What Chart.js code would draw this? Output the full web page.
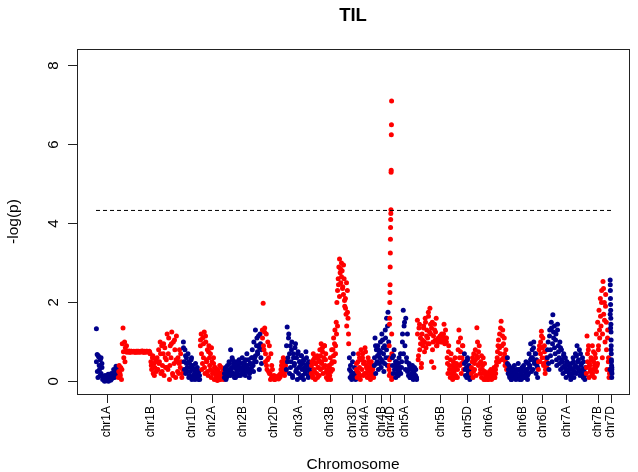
<!DOCTYPE html>
<html>
<head>
<meta charset="utf-8">
<title>TIL</title>
<script src="https://cdn.jsdelivr.net/npm/chart.js@4.4.1/dist/chart.umd.min.js"></script>
<style>
  html, body { margin: 0; padding: 0; background: #fff; }
  #wrap { width: 638px; height: 472px; }
</style>
</head>
<body>
<div id="wrap"><canvas id="manhattan" width="638" height="472"></canvas></div>
<script>
// ================================================
// DATA  (-log(p) per marker, in map order per chromosome)
// ================================================
const chrNames = ['chr1A','chr1B','chr1D','chr2A','chr2B','chr2D','chr3A','chr3B','chr3D','chr4A','chr4B',
                  'chr4D','chr5A','chr5B','chr5D','chr6A','chr6B','chr6D','chr7A','chr7B','chr7D'];
const chrLengths = [22, 65, 17, 24, 38, 24, 25, 38, 7, 18, 15, 3, 25, 47, 7, 36, 31, 9, 39, 24, 2];

// first marker panel
const v1A = [1.33,0.68,0.1,0.62,0.3,0.55,0.2,
             0.45,0.05,0.12,0.02,0.15,0.05,0.1,0.02,0.18,0.06,0.12,0.03,0.2,0.08,
             0.15,0.3,0.1,0.25,0.38,0.2,0.32];
const v1B = [0.1,0.4,0.2,0.35,0.05,
             0.95,1.35,0.6,1.0,0.85,
             0.76,0.74,0.76,0.75,0.77,0.75,0.74,0.76,0.75,0.75,0.76,0.74,0.75,0.76,0.75,0.74,
             0.76,0.75,0.74,0.76,0.75,0.77,0.75,0.74,0.76,0.75,0.74,0.76,0.75,0.75,0.76,
             0.7,0.5,0.3,0.6,0.2,0.45,0.35,0.55,0.25,
             0.6,0.3,0.8,0.5,1.0,0.2,0.9,0.4,0.7,0.15,0.85,0.35,0.55,
             1.2,0.3,1.1,0.05,0.9,0.6,1.25,0.2,1.0,0.45,0.8,0.1,1.15,0.5,
             0.6,0.2,0.8,0.35,0.5,0.1,0.3];
const v1D = [1.0,0.5,0.8,0.2,0.6,0.35,0.7,0.1,0.45,0.25,0.55,0.05,0.4,0.15,0.3,0.05,0.2,0.1,0.35,0.15,0.25,0.05];
const v2A = [0.9,1.2,0.3,1.1,0.6,1.25,0.2,1.0,0.5,0.8,0.15,0.9,0.4,0.7,0.1,0.5,
             0.25,0.45,0.05,0.35,0.15,0.3,0.02,0.25,0.1,0.4,0.05,0.2,0.1,0.3,0.05];
const v2B = [0.1,0.3,0.05,0.2,0.4,0.15,0.5,0.25,0.8,0.3,0.6,0.2,0.45,0.1,0.35,0.5,0.2,0.4,0.15,0.55,
             0.3,0.45,0.2,0.6,0.35,0.25,0.5,0.15,0.4,0.7,0.3,0.55,0.1,0.45,0.25,0.6,0.8,0.4,1.0,0.6,
             1.3,0.5,1.1,0.7,0.9,0.3,1.2,0.6,0.8];
const v2D = [1.3,1.98,0.8,1.35,0.5,1.2,0.3,1.0,0.6,0.9,0.2,0.7,0.4,0.3,0.1,0.15,0.05,0.1,0.12,0.08,
             0.1,0.15,0.1,0.12,0.3,0.5,0.2,0.6,0.35,0.55,0.25];
const v3A = [0.3,1.38,0.6,1.2,0.2,0.9,0.5,1.0,0.1,0.7,0.4,0.85,0.25,0.6,0.05,0.75,
             0.35,0.5,0.1,0.65,0.3,0.45,0.05,0.55,0.2,0.75,0.4,0.3,0.1,0.5,0.2,0.35];
const v3B = [0.2,0.5,0.1,0.7,0.3,0.6,0.05,0.45,0.2,0.65,0.35,0.55,0.15,
             0.8,0.3,0.95,0.5,0.85,0.2,0.6,0.9,0.4,0.7,
             0.1,0.3,0.05,0.2,0.4,0.15,0.6,0.25,0.8,0.5,
             0.8,1.1,0.5,1.3,0.9,1.5,
             2.0,2.3,2.6,2.9,3.1,2.75,2.5,3.0,2.8,2.4,2.2,2.6,1.9,2.1,1.7,1.4,2.3,1.6,
             0.95];
const v3D = [0.6,0.1,0.25,0.05,0.15,0.7,0.1,0.2,0.05];
const v4A = [0.3,0.1,0.5,0.2,0.6,0.05,0.8,0.3,0.7,0.15,0.5,0.85,0.2,0.4,0.1,0.6,0.25,0.35,0.05,0.5,0.2,0.3,0.1];
const v4B = [0.4,1.1,0.2,0.8,0.5,0.9,0.3,0.7,0.6,1.0,0.35,1.2,0.5,0.85,0.25,0.9,1.3,0.6,1.6,0.4,1.75,1.0];
const v4D = [0.3,0.9,0.15,1.45,0.55,1.6,2.0,2.25,2.45,2.9,3.25,3.6,3.9,4.1,4.25,4.35,
             5.3,5.35,6.25,6.5,7.1,1.2,0.7,0.1];
const v5A = [0.6,0.2,0.8,0.4,0.1,0.5,0.3,0.15,0.6,0.35,0.2,0.5,1.0,1.8,1.4,0.9,1.6,0.5,1.2,0.3,
             0.45,0.1,0.35,0.2,0.4,0.05,0.25,0.15,0.3,0.05];
const v5B = [1.55,0.55,1.35,0.8,1.1,0.35,
             1.2,0.9,1.4,1.0,1.6,0.85,1.3,1.1,1.75,0.95,1.85,1.2,0.5,1.5,1.0,0.35,1.3,1.05,1.6,
             0.9,1.05,1.1,1.0,1.15,1.05,1.2,1.0,1.1,1.45,0.95,1.1,1.0,
             0.6,0.2,0.9,0.4,0.1,0.7,0.3,0.05,0.5,0.25,0.6,0.15,0.4,0.1,
             0.8,1.3,0.4,1.1,0.2,0.6,0.9,0.3];
const v5D = [0.7,0.3,0.5,0.1,0.6,0.2,0.4,0.05,0.3];
const v6A = [0.2,0.5,0.1,0.7,0.3,0.8,0.15,1.36,0.6,0.4,0.9,0.2,0.5,0.1,0.3,0.6,0.05,0.25,
             0.05,0.2,0.1,0.15,0.05,0.25,0.1,0.3,0.2,0.08,0.15,0.35,0.1,0.2,0.4,
             0.6,0.9,0.5,1.2,0.7,1.52,0.9,1.3,0.6,1.1,0.4,0.8,0.3];
const v6B = [0.6,0.2,0.4,0.1,0.3,0.05,0.25,0.35,0.1,0.4,0.2,0.05,0.3,0.15,0.45,0.1,0.3,0.2,0.05,0.35,
             0.15,0.4,0.1,0.25,0.5,0.3,0.15,0.45,0.7,0.4,0.95,0.6,0.8,0.3,1.0,0.5,0.7,0.2,0.4,0.1];
const v6D = [0.3,0.8,0.5,1.0,1.27,0.6,1.1,0.4,0.9,0.2,0.6,0.35];
const v7A = [0.6,1.0,0.3,1.3,0.8,1.5,0.5,1.69,1.1,1.4,0.7,1.2,0.4,1.45,0.9,0.6,1.0,0.3,0.8,0.5,
             0.2,0.7,0.35,0.6,0.1,0.5,0.25,0.4,0.15,0.3,0.05,0.45,0.2,0.6,0.1,0.35,0.7,0.2,0.9,0.5,
             0.3,0.8,0.15,0.4,0.2,0.6,0.1,0.3,0.05,0.2];
const v7B = [0.2,1.15,0.5,0.8,0.1,0.4,0.25,0.6,0.15,0.9,0.3,0.5,0.1,0.7,0.35,1.2,0.4,1.5,0.8,1.8,
             1.1,2.1,1.4,2.3,0.6,2.53,1.7,2.0,1.0,2.2,1.5,0.3,1.3,0.5,0.1,0.3];
const v7D = [0.3,2.57,2.45,2.3,2.1,1.95,1.8,1.6,1.45,1.25,1.05,0.9,0.7,0.55,0.4,0.25,0.1,0.35,0.2];

// second marker panel (fills in the dense clouds)
const f1A = [0.5,0.25,0.65,0.4,0.15,0.6,0.35,0.1,0.08,0.0,0.1,0.04,0.14,0.0,0.09,0.12,0.05,0.16,
             0.1,0.22,0.12,0.28,0.18,0.35];
const f1B = [0.25,0.15,0.3,
             0.75,0.5,0.9,
             0.75,0.74,0.76,0.75,0.75,0.74,0.76,0.75,0.75,0.76,0.74,0.75,0.76,0.75,0.74,
             0.4,0.65,0.15,0.5,0.3,
             0.45,0.7,0.25,0.95,0.6,0.35,
             0.7,0.4,0.95,0.15,1.05,0.55,0.25,
             0.45,0.7,0.2];
const f1D = [0.85,0.3,0.65,0.45,0.25,0.5,0.15,0.35,0.6,0.1,0.3,0.2,0.45,0.1,0.25,0.05,0.15];
const f2A = [1.05,0.7,0.45,0.95,0.35,1.15,0.55,0.25,0.75,0.6,0.3,0.85,0.2,0.6,0.35,0.2,0.1,0.3,
             0.15,0.05,0.2,0.35,0.1,0.15];
const f2B = [0.2,0.35,0.1,0.3,0.25,0.45,0.15,0.35,0.55,0.2,0.4,0.1,0.3,0.25,0.5,0.35,0.15,0.3,0.45,
             0.2,0.35,0.55,0.25,0.4,0.3,0.2,0.45,0.35,0.6,0.25,0.5,0.65,0.9,0.75,1.15,0.85,0.95,0.45];
const f2D = [1.1,0.9,1.25,0.7,0.4,0.55,0.25,0.2,0.05,0.1,0.08,0.12,0.05,0.1,0.08,0.12,0.06,0.1,
             0.2,0.4,0.3,0.45,0.15,0.4];
const f3A = [0.9,0.5,1.1,0.7,0.35,0.8,0.15,0.6,0.45,0.95,0.3,0.7,0.2,0.5,0.4,0.65,0.15,0.55,0.35,
             0.25,0.6,0.45,0.15,0.4,0.25];
const f3B = [0.4,0.15,0.55,0.25,0.45,0.6,0.1,0.35,0.5,
             0.65,0.45,0.75,0.35,0.9,0.55,0.25,
             0.2,0.1,0.35,0.05,0.45,0.3,0.65,
             0.95,0.7,1.2,1.4,
             2.45,2.15,2.85,2.65,2.35,2.95,2.05,1.85,2.5,1.75,
             1.2];
const f3D = [0.3,0.4,0.15,0.5,0.2,0.35,0.1];
const f4A = [0.45,0.25,0.7,0.35,0.15,0.55,0.6,0.45,0.2,0.75,0.35,0.3,0.5,0.15,0.45,0.3,0.15,0.4];
const f4B = [0.6,0.9,0.45,0.65,0.8,0.45,0.75,0.55,1.05,0.7,0.45,1.1,0.8,1.4,0.6];
const f4D = [0.4,0.2,0.6,0.05];
const f5A = [0.4,0.65,0.3,0.5,0.2,0.35,0.45,0.25,0.7,0.35,1.2,0.7,1.5,0.3,0.6,0.25,0.15,0.4,0.1,
             0.3,0.2,0.1,0.35,0.15,0.1];
const f5B = [1.2,0.65,1.45,0.95,0.45,
             1.05,1.35,0.75,1.5,1.15,0.95,1.65,1.25,1.45,1.35,0.8,1.15,1.45,1.25,0.9,
             1.0,1.1,1.05,1.15,1.0,1.1,1.2,1.05,1.3,1.1,
             0.45,0.75,0.3,0.55,0.2,0.4,0.15,0.35,0.1,0.45,0.3,
             1.0,0.6,0.75,0.45,0.9,0.5];
const f5D = [0.45,0.15,0.35,0.55,0.25,0.1,0.2];
const f6A = [0.35,0.6,0.25,0.45,0.55,0.65,1.0,0.75,0.45,0.3,0.65,0.4,0.2,0.45,
             0.1,0.15,0.05,0.2,0.12,0.18,0.05,0.15,0.25,0.1,0.3,0.5,
             0.75,1.05,0.85,1.35,0.55,1.15,0.95,0.7,0.5,0.6];
const f6B = [0.45,0.3,0.15,0.2,0.05,0.15,0.3,0.2,0.1,0.25,0.15,0.3,0.05,0.2,0.25,0.35,0.1,0.25,0.15,
             0.3,0.05,0.2,0.35,0.55,0.25,0.6,0.85,0.45,0.7,0.55,0.35];
const f6D = [0.5,0.9,0.7,1.15,0.85,0.45,0.75,0.3,0.5];
const f7A = [0.8,0.45,1.15,0.65,1.35,0.95,1.25,0.85,1.05,0.55,1.3,0.75,0.45,0.85,0.55,0.35,0.65,0.4,
             0.25,0.5,0.3,0.45,0.2,0.35,0.1,0.3,0.5,0.25,0.4,0.65,0.35,0.55,0.25,0.7,0.45,0.3,0.5,
             0.15,0.35];
const f7B = [0.35,0.7,0.9,0.45,0.3,0.55,0.2,0.75,0.4,0.6,0.25,0.45,0.9,1.3,1.65,2.0,1.2,2.35,1.55,
             1.9,0.8,1.1,0.6,0.2];
const f7D = [1.7,1.35,0.8,0.5,0.3];

const chrValues = [v1A,v1B,v1D,v2A,v2B,v2D,v3A,v3B,v3D,v4A,v4B,v4D,v5A,v5B,v5D,v6A,v6B,v6D,v7A,v7B,v7D];
const chrFill   = [f1A,f1B,f1D,f2A,f2B,f2D,f3A,f3B,f3D,f4A,f4B,f4D,f5A,f5B,f5D,f6A,f6B,f6D,f7A,f7B,f7D];

const threshold = 4.33;
const yTicks = [0, 2, 4, 6, 8];
const xMin = -19, xMax = 533;
const yMin = -0.32, yMax = 8.42;

// ---- Palette ----
const C = { navy: '#00008B', red: '#FF0000', ink: '#000000', frame: '#222222' };
const FONT = '"Liberation Sans", Arial, sans-serif';

// ================================================
// BUILD DATASETS
// ================================================
const starts = [];
const mids = [];
let offset = 0;
chrLengths.forEach(len => {
  starts.push(offset);
  mids.push(offset + len / 2);
  offset += len;
});

// markers of a panel are spread evenly along their chromosome
function place(vals, i) {
  return vals.map((v, j) => ({ x: starts[i] + chrLengths[i] * (j + 0.5) / vals.length, y: v }));
}

const datasets = chrValues.map((vals, i) => ({
  label: chrNames[i],
  data: place(vals, i).concat(place(chrFill[i], i)),
  backgroundColor: i % 2 ? C.red : C.navy,
  borderWidth: 0,
  pointRadius: 2.5,
  pointBorderWidth: 0,
  order: chrNames.length - i + 1
}));

datasets.push({
  type: 'line',
  label: 'threshold',
  data: [{ x: 0, y: threshold }, { x: offset, y: threshold }],
  borderColor: C.ink,
  borderWidth: 1,
  borderDash: [4, 3],
  pointRadius: 0,
  order: 0
});

// ---- frame + titles ----
const framePlugin = {
  id: 'frame',
  afterDraw(chart) {
    const { ctx, chartArea: a } = chart;
    ctx.save();
    ctx.strokeStyle = C.frame;
    ctx.lineWidth = 1;
    ctx.strokeRect(Math.round(a.left) + 0.5, Math.round(a.top) + 0.5,
                   Math.round(a.right - a.left), Math.round(a.bottom - a.top));

    const cx = (a.left + a.right) / 2;
    ctx.fillStyle = C.ink;
    ctx.textAlign = 'center';
    ctx.textBaseline = 'middle';
    ctx.font = `bold 18.5px ${FONT}`;
    ctx.fillText('TIL', cx, 15.5);

    ctx.font = `15.5px ${FONT}`;
    ctx.textBaseline = 'alphabetic';
    ctx.fillText('Chromosome', cx, 469);

    ctx.translate(14, (a.top + a.bottom) / 2);
    ctx.rotate(-Math.PI / 2);
    ctx.textBaseline = 'middle';
    ctx.fillText('-log(p)', 0, 0);
    ctx.restore();
  }
};

// ================================================
// CHART
// ================================================
new Chart(document.getElementById('manhattan'), {
  type: 'scatter',
  data: { datasets },
  plugins: [framePlugin],
  options: {
    responsive: false,
    animation: false,
    events: [],
    layout: { padding: { top: 49, right: 9, bottom: 0, left: 0 } },
    plugins: { legend: { display: false }, tooltip: { enabled: false }, title: { display: false } },
    scales: {
      x: {
        type: 'linear',
        min: xMin,
        max: xMax,
        afterBuildTicks: s => { s.ticks = mids.map(v => ({ value: v })); },
        afterFit: s => { s.height = 78; },
        grid: { drawOnChartArea: false, drawTicks: true, tickLength: 9, tickColor: C.frame, color: C.frame },
        border: { display: false },
        ticks: {
          autoSkip: false,
          minRotation: 90,
          maxRotation: 90,
          padding: 3,
          color: C.ink,
          font: { family: FONT, size: 12 },
          callback: (v, i) => chrNames[i]
        }
      },
      y: {
        type: 'linear',
        min: yMin,
        max: yMax,
        afterBuildTicks: s => { s.ticks = yTicks.map(v => ({ value: v })); },
        afterFit: s => { s.width = 77; },
        grid: { drawOnChartArea: false, drawTicks: true, tickLength: 9, tickColor: C.frame, color: C.frame },
        border: { display: false },
        ticks: {
          minRotation: 90,
          maxRotation: 90,
          crossAlign: 'center',
          padding: 10,
          color: C.ink,
          font: { family: FONT, size: 15 },
          callback: v => String(v)
        }
      }
    }
  }
});
</script>
</body>
</html>
